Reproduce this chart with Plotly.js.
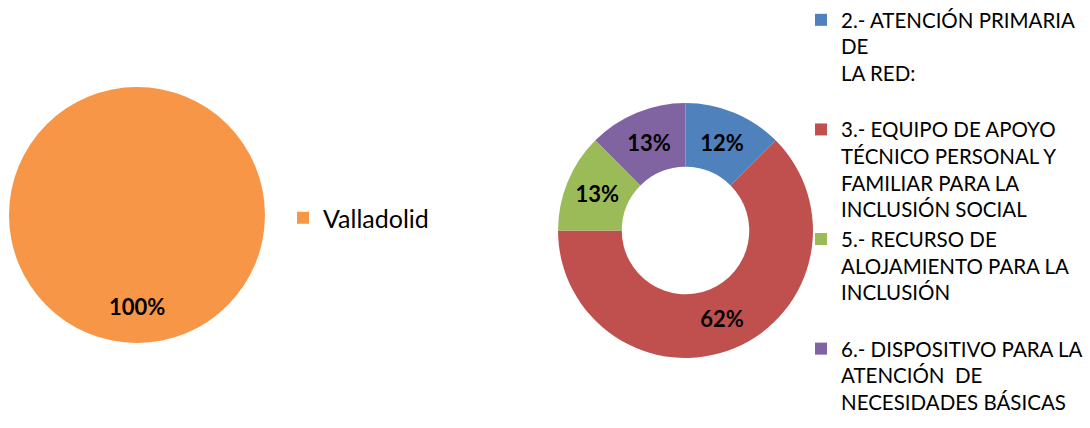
<!DOCTYPE html>
<html>
<head>
<meta charset="utf-8">
<script src="https://cdn.plot.ly/plotly-3.0.1.min.js"></script>
<style>html,body{margin:0;padding:0;background:#fff;}#chart{width:1090px;height:428px;}</style>
</head>
<body>
<div id="chart"></div>
<script>
// Left pie
const leftLabels = ["Valladolid"];
const leftValues = [100];
const leftText = ["100%"];
const leftColors = ["#F79646"];

// Right donut
const rightLabels = [
  "2.- ATENCIÓN PRIMARIA<br>DE<br>LA RED:<br> ",
  "3.- EQUIPO DE APOYO<br>TÉCNICO PERSONAL Y<br>FAMILIAR PARA LA<br>INCLUSIÓN SOCIAL",
  "5.- RECURSO DE<br>ALOJAMIENTO PARA LA<br>INCLUSIÓN<br> ",
  "6.- DISPOSITIVO PARA LA<br>ATENCIÓN  DE<br>NECESIDADES BÁSICAS"
];
const rightValues = [12.5, 62.5, 12.5, 12.5];
const rightText = ["12%", "62%", "13%", "13%"];
const rightColors = ["#4F81BD", "#C0504D", "#9BBB59", "#8064A2"];

const FONT = "Lato, 'Open Sans', sans-serif";

const traces = [
  {
    type: "pie",
    labels: leftLabels,
    values: leftValues,
    marker: {colors: leftColors, line: {width: 0}},
    textinfo: "none",
    sort: false,
    direction: "clockwise",
    rotation: 0,
    domain: {x: [0.00826, 0.2431], y: [0.1986, 0.7967]},
    legend: "legend",
    hoverinfo: "label+percent"
  },
  {
    type: "pie",
    labels: rightLabels,
    values: rightValues,
    text: rightText,
    textinfo: "text",
    textposition: "inside",
    insidetextorientation: "horizontal",
    textfont: {family: FONT, size: 22, color: "#000000", weight: "bold"},
    hole: 0.5,
    marker: {colors: rightColors, line: {width: 0}},
    sort: false,
    direction: "clockwise",
    rotation: 0,
    domain: {x: [0.5119, 0.7459], y: [0.1636, 0.7593]},
    legend: "legend2",
    hoverinfo: "label+percent"
  }
];

const layout = {
  width: 1090,
  height: 428,
  margin: {l: 0, r: 0, t: 0, b: 0, autoexpand: false},
  paper_bgcolor: "#ffffff",
  plot_bgcolor: "#ffffff",
  font: {family: FONT, color: "#000000"},
  showlegend: true,
  legend: {
    x: 283/1090, xanchor: "left",
    y: (428-218)/428, yanchor: "middle",
    font: {family: FONT, size: 25, color: "#000000"},
    bgcolor: "rgba(0,0,0,0)"
  },
  legend2: {
    x: 801/1090, xanchor: "left",
    y: 1.0, yanchor: "top",
    valign: "top",
    font: {family: FONT, size: 20.5, color: "#000000"},
    bgcolor: "rgba(0,0,0,0)",
    traceorder: "normal"
  },
  annotations: [
    {
      xref: "paper", yref: "paper",
      x: 137/1090, y: (428-306)/428,
      text: leftText[0],
      showarrow: false,
      font: {family: FONT, size: 22, color: "#000000", weight: "bold"},
      xanchor: "center", yanchor: "middle"
    }
  ]
};

Plotly.newPlot("chart", traces, layout, {displayModeBar: false, staticPlot: true});
</script>
</body>
</html>
